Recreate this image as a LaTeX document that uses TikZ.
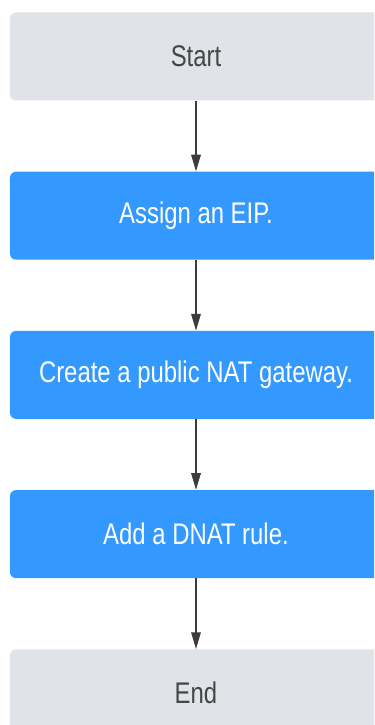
\documentclass[tikz,border=0pt]{standalone}
\usepackage{fontspec}
\setmainfont{Liberation Sans}
\newfontfamily\narrowsans[FakeStretch=0.8]{Liberation Sans}
\usepackage{tikz}
\usetikzlibrary{arrows.meta,positioning}

\definecolor{termgray}{RGB}{224,227,231}
\definecolor{stepblue}{RGB}{51,153,255}
\definecolor{termtext}{RGB}{70,70,70}
\definecolor{flowline}{RGB}{60,60,60}

\begin{document}
\begin{tikzpicture}[
  node distance=1.41cm,
  term/.style={rectangle, rounded corners=3.4pt, fill=termgray, text=termtext,
    minimum width=7.44cm, minimum height=1.76cm, inner sep=0pt,
    font=\narrowsans\fontsize{17}{20}\selectfont},
  stepbox/.style={term, fill=stepblue, text=white},
  flow/.style={-{Triangle[length=9.5pt,width=5.5pt]}, line width=0.7pt, draw=flowline},
]
\useasboundingbox (0,0) rectangle (7.48,-14.5);
\clip (0,0) rectangle (7.48,-14.5);

%==================== LANGKAH ====================
\node[term] (start) at (3.92,-1.13) {Start};
\node[stepbox, below=of start] (eip) {Assign an EIP.};
\node[stepbox, below=of eip] (natgw) {Create a public NAT gateway.};
\node[stepbox, below=of natgw] (dnat) {Add a DNAT rule.};
\node[term, below=of dnat] (finish) {End};

%==================== ALUR ====================
\draw[flow] (start) -- (eip);
\draw[flow] (eip) -- (natgw);
\draw[flow] (natgw) -- (dnat);
\draw[flow] (dnat) -- (finish);

\end{tikzpicture}
\end{document}
